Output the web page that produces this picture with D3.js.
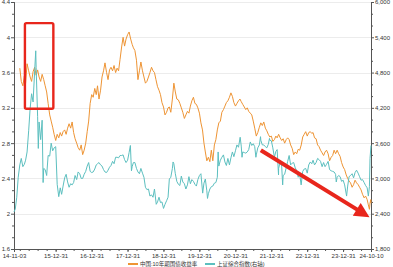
<!DOCTYPE html>
<html><head><meta charset="utf-8">
<script src="https://cdn.jsdelivr.net/npm/d3@7"></script>
<style>body{margin:0;background:#fff}svg{display:block}</style>
</head><body>
<script>
// ---------- DATA ----------
const seriesNames = ["中国:10年期国债收益率", "上证综合指数(右轴)"];

const yieldDates = ["2015-01-01","2015-01-16","2015-02-01","2015-02-16","2015-03-01","2015-03-16","2015-04-01","2015-04-16","2015-05-01","2015-05-16","2015-06-01","2015-06-16","2015-07-01","2015-07-16","2015-08-01","2015-08-16","2015-09-01","2015-09-16","2015-10-01","2015-10-16","2015-11-01","2015-11-16","2015-12-01","2015-12-16",
"2016-01-01","2016-01-16","2016-02-01","2016-02-16","2016-03-01","2016-03-16","2016-04-01","2016-04-16","2016-05-01","2016-05-16","2016-06-01","2016-06-16","2016-07-01","2016-07-16","2016-08-01","2016-08-16","2016-09-01","2016-09-16","2016-10-01","2016-10-16","2016-11-01","2016-11-16","2016-12-01","2016-12-16",
"2017-01-01","2017-01-16","2017-02-01","2017-02-16","2017-03-01","2017-03-16","2017-04-01","2017-04-16","2017-05-01","2017-05-16","2017-06-01","2017-06-16","2017-07-01","2017-07-16","2017-08-01","2017-08-16","2017-09-01","2017-09-16","2017-10-01","2017-10-16","2017-11-01","2017-11-16","2017-12-01","2017-12-16",
"2018-01-01","2018-01-16","2018-02-01","2018-02-16","2018-03-01","2018-03-16","2018-04-01","2018-04-16","2018-05-01","2018-05-16","2018-06-01","2018-06-16","2018-07-01","2018-07-16","2018-08-01","2018-08-16","2018-09-01","2018-09-16","2018-10-01","2018-10-16","2018-11-01","2018-11-16","2018-12-01","2018-12-16",
"2019-01-01","2019-01-16","2019-02-01","2019-02-16","2019-03-01","2019-03-16","2019-04-01","2019-04-16","2019-05-01","2019-05-16","2019-06-01","2019-06-16","2019-07-01","2019-07-16","2019-08-01","2019-08-16","2019-09-01","2019-09-16","2019-10-01","2019-10-16","2019-11-01","2019-11-16","2019-12-01","2019-12-16",
"2020-01-01","2020-01-16","2020-02-01","2020-02-16","2020-03-01","2020-03-16","2020-04-01","2020-04-16","2020-05-01","2020-05-16","2020-06-01","2020-06-16","2020-07-01","2020-07-16","2020-08-01","2020-08-16","2020-09-01","2020-09-16","2020-10-01","2020-10-16","2020-11-01","2020-11-16","2020-12-01","2020-12-16",
"2021-01-01","2021-01-16","2021-02-01","2021-02-16","2021-03-01","2021-03-16","2021-04-01","2021-04-16","2021-05-01","2021-05-16","2021-06-01","2021-06-16","2021-07-01","2021-07-16","2021-08-01","2021-08-16","2021-09-01","2021-09-16","2021-10-01","2021-10-16","2021-11-01","2021-11-16","2021-12-01","2021-12-16",
"2022-01-01","2022-01-16","2022-02-01","2022-02-16","2022-03-01","2022-03-16","2022-04-01","2022-04-16","2022-05-01","2022-05-16","2022-06-01","2022-06-16","2022-07-01","2022-07-16","2022-08-01","2022-08-16","2022-09-01","2022-09-16","2022-10-01","2022-10-16","2022-11-01","2022-11-16","2022-12-01","2022-12-16",
"2023-01-01","2023-01-16","2023-02-01","2023-02-16","2023-03-01","2023-03-16","2023-04-01","2023-04-16","2023-05-01","2023-05-16","2023-06-01","2023-06-16","2023-07-01","2023-07-16","2023-08-01","2023-08-16","2023-09-01","2023-09-16","2023-10-01","2023-10-16","2023-11-01","2023-11-16","2023-12-01","2023-12-16",
"2024-01-01","2024-01-16","2024-02-01","2024-02-16","2024-03-01","2024-03-16","2024-04-01","2024-04-16","2024-05-01","2024-05-16","2024-06-01","2024-06-16","2024-07-01","2024-07-16","2024-08-01","2024-08-16","2024-09-01","2024-09-13","2024-09-24","2024-09-30","2024-10-08","2024-10-10"];

const yieldValues = [3.65,3.5,3.45,3.56,3.48,3.7,3.62,3.55,3.5,3.61,3.66,3.57,3.63,3.55,3.5,3.58,3.52,3.45,3.38,3.25,3.12,3.05,2.98,2.9,
2.83,2.9,2.86,2.92,2.88,2.93,2.95,2.9,2.97,3.02,2.97,3.04,2.92,2.85,2.8,2.75,2.72,2.78,2.67,2.72,2.8,2.93,3.05,3.25,
3.35,3.32,3.42,3.35,3.45,3.3,3.4,3.55,3.62,3.71,3.6,3.52,3.63,3.66,3.62,3.68,3.6,3.65,3.62,3.75,3.89,4.0,3.9,3.98,
4.03,4.06,3.98,3.92,3.88,3.85,3.74,3.52,3.62,3.72,3.62,3.55,3.48,3.5,3.55,3.6,3.66,3.62,3.6,3.52,3.44,3.4,3.35,3.26,
3.21,3.12,3.15,3.2,3.21,3.15,3.3,3.48,3.38,3.3,3.29,3.25,3.2,3.15,3.08,3.12,3.16,3.14,3.22,3.28,3.32,3.25,3.24,3.2,
3.14,3.03,2.95,2.8,2.7,2.6,2.64,2.59,2.72,2.6,2.78,2.84,2.95,3.03,3.05,3.15,3.18,3.22,3.26,3.28,3.32,3.37,3.33,3.26,
3.22,3.25,3.28,3.3,3.27,3.24,3.21,3.18,3.2,3.16,3.14,3.12,3.05,2.97,2.88,2.92,2.98,3.03,3.0,3.04,2.97,2.94,2.9,2.87,
2.88,2.82,2.84,2.88,2.86,2.9,2.86,2.83,2.85,2.8,2.84,2.86,2.84,2.78,2.74,2.67,2.7,2.68,2.73,2.72,2.78,2.87,2.9,2.93,
2.88,2.92,2.93,2.91,2.92,2.86,2.85,2.78,2.76,2.72,2.69,2.66,2.7,2.72,2.68,2.6,2.64,2.66,2.72,2.68,2.72,2.68,2.65,2.58,
2.53,2.5,2.44,2.4,2.37,2.35,2.3,2.33,2.38,2.35,2.33,2.3,2.27,2.22,2.18,2.2,2.16,2.1,2.05,2.12,2.16,2.12];

const indexDates = ["2014-11-03","2014-11-16","2014-12-01","2014-12-16",
"2015-01-01","2015-01-16","2015-02-01","2015-02-16","2015-03-01","2015-03-16","2015-04-01","2015-04-16","2015-05-01","2015-05-16","2015-06-01","2015-06-12","2015-06-16","2015-07-01","2015-07-08","2015-07-16","2015-08-01","2015-08-16","2015-08-26","2015-09-01","2015-09-16","2015-10-01","2015-10-16","2015-11-01","2015-11-16","2015-12-01","2015-12-16",
"2016-01-01","2016-01-16","2016-02-01","2016-02-16","2016-03-01","2016-03-16","2016-04-01","2016-04-16","2016-05-01","2016-05-16","2016-06-01","2016-06-16","2016-07-01","2016-07-16","2016-08-01","2016-08-16","2016-09-01","2016-09-16","2016-10-01","2016-10-16","2016-11-01","2016-11-16","2016-12-01","2016-12-16",
"2017-01-01","2017-01-16","2017-02-01","2017-02-16","2017-03-01","2017-03-16","2017-04-01","2017-04-16","2017-05-01","2017-05-16","2017-06-01","2017-06-16","2017-07-01","2017-07-16","2017-08-01","2017-08-16","2017-09-01","2017-09-16","2017-10-01","2017-10-16","2017-11-01","2017-11-16","2017-12-01","2017-12-16",
"2018-01-01","2018-01-16","2018-01-29","2018-02-09","2018-02-16","2018-03-01","2018-03-16","2018-04-01","2018-04-16","2018-05-01","2018-05-16","2018-06-01","2018-06-16","2018-07-01","2018-07-16","2018-08-01","2018-08-16","2018-09-01","2018-09-16","2018-10-01","2018-10-19","2018-11-01","2018-11-16","2018-12-01","2018-12-16",
"2019-01-01","2019-01-16","2019-02-01","2019-02-16","2019-03-01","2019-03-16","2019-04-01","2019-04-08","2019-04-16","2019-05-01","2019-05-16","2019-06-01","2019-06-16","2019-07-01","2019-07-16","2019-08-01","2019-08-16","2019-09-01","2019-09-16","2019-10-01","2019-10-16","2019-11-01","2019-11-16","2019-12-01","2019-12-16",
"2020-01-01","2020-01-16","2020-02-03","2020-02-16","2020-03-01","2020-03-16","2020-03-23","2020-04-01","2020-04-16","2020-05-01","2020-05-16","2020-06-01","2020-06-16","2020-07-01","2020-07-09","2020-07-16","2020-08-01","2020-08-16","2020-09-01","2020-09-16","2020-10-01","2020-10-16","2020-11-01","2020-11-16","2020-12-01","2020-12-16",
"2021-01-01","2021-01-16","2021-02-01","2021-02-18","2021-03-01","2021-03-09","2021-03-16","2021-04-01","2021-04-16","2021-05-01","2021-05-16","2021-06-01","2021-06-16","2021-07-01","2021-07-16","2021-07-28","2021-08-01","2021-08-16","2021-09-01","2021-09-13","2021-09-16","2021-10-01","2021-10-16","2021-11-01","2021-11-16","2021-12-01","2021-12-13","2021-12-16",
"2022-01-01","2022-01-16","2022-02-01","2022-02-16","2022-03-01","2022-03-15","2022-03-16","2022-04-01","2022-04-16","2022-04-26","2022-05-01","2022-05-16","2022-06-01","2022-06-16","2022-07-01","2022-07-16","2022-08-01","2022-08-16","2022-09-01","2022-09-16","2022-10-01","2022-10-16","2022-10-31","2022-11-16","2022-12-01","2022-12-16",
"2023-01-01","2023-01-16","2023-02-01","2023-02-16","2023-03-01","2023-03-16","2023-04-01","2023-04-16","2023-05-01","2023-05-16","2023-06-01","2023-06-16","2023-07-01","2023-07-16","2023-08-01","2023-08-16","2023-09-01","2023-09-16","2023-10-01","2023-10-16","2023-10-23","2023-11-01","2023-11-16","2023-12-01","2023-12-16",
"2024-01-01","2024-01-16","2024-02-05","2024-02-16","2024-03-01","2024-03-16","2024-04-01","2024-04-16","2024-05-01","2024-05-16","2024-06-01","2024-06-16","2024-07-01","2024-07-16","2024-08-01","2024-08-16","2024-09-01","2024-09-13","2024-09-24","2024-09-30","2024-10-10"];

const indexValues = [2430,2480,2680,3020,
3230,3340,3200,3240,3310,3450,3810,4190,4440,4300,4830,5170,4890,4050,3510,3960,3660,3990,2930,3170,3150,3050,3390,3380,3600,3470,3520,
3540,2900,2690,2840,2730,2870,3010,3070,2940,2850,2910,2890,2930,3050,2980,3110,3080,3000,3000,3070,3120,3210,3270,3120,
3100,3110,3160,3230,3250,3270,3230,3210,3150,3110,3100,3140,3190,3220,3290,3250,3360,3360,3350,3390,3390,3400,3320,3270,
3310,3440,3560,3130,3200,3270,3270,3170,3110,3080,3170,3090,3020,2850,2810,2820,2700,2720,2680,2820,2560,2600,2680,2590,2600,
2490,2560,2620,2680,2990,3020,3170,3280,3250,3080,2950,2900,2880,3040,2940,2910,2820,2890,3030,2910,2980,2950,2900,2870,2980,
3050,3080,2750,2920,2990,2790,2660,2740,2820,2860,2870,2920,2930,3020,3450,3210,3310,3360,3400,3280,3220,3340,3230,3350,3450,3370,
3470,3570,3530,3700,3550,3360,3450,3440,3430,3450,3490,3620,3560,3590,3540,3360,3400,3520,3570,3710,3650,3570,3570,3540,3520,3580,3680,3650,
3640,3520,3360,3460,3490,3060,3170,3280,3210,2890,3050,3070,3180,3290,3390,3230,3260,3270,3180,3130,3020,3070,2890,3120,3160,3170,
3090,3230,3280,3250,3310,3230,3270,3340,3320,3290,3200,3270,3200,3240,3290,3150,3130,3120,3110,3070,2940,3020,3050,3030,2950,
2970,2890,2700,2870,3030,3050,3080,3010,3100,3140,3090,3030,2970,2980,2930,2880,2840,2700,2860,3340,3560];

const leftTicks = [1.6, 2, 2.4, 2.8, 3.2, 3.6, 4, 4.4];
const rightTicks = [1800, 2400, 3000, 3600, 4200, 4800, 5400, 6000];
const xTickLabels = ["14-11-03","15-12-31","16-12-31","17-12-31","18-12-31","19-12-31","20-12-31","21-12-31","22-12-31","23-12-31","24-10-10"];
const xDomain = ["2014-11-03", "2024-10-10"];

// annotations (in data units)
const boxCorners = {d0: "2015-02-22", d1: "2015-12-08", v0: 4.16, v1: 3.19};
const arrowEnds = {d0: "2021-09-16", v0: 2.72, d1: "2024-09-25", v1: 1.96};

// ---------- CHART ----------
const W = 393, H = 267;
const parse = d3.timeParse("%Y-%m-%d");
const parseShort = d3.timeParse("%y-%m-%d");
const font = "'Liberation Sans', Arial, 'Noto Sans CJK SC', sans-serif";

const svg = d3.select("body").append("svg").attr("width", W).attr("height", H)
  .style("font-family", font);

const x = d3.scaleTime().domain(xDomain.map(parse)).range([14, 371]);
const yL = d3.scaleLinear().domain([1.6, 4.4]).range([249, 2]);
const yR = d3.scaleLinear().domain([1800, 6000]).range([249, 2]);

// gridlines
svg.append("g").selectAll("line").data(leftTicks.slice(1)).join("line")
  .attr("x1", 14).attr("x2", 371)
  .attr("y1", d => Math.round(yL(d)) + 0.5).attr("y2", d => Math.round(yL(d)) + 0.5)
  .attr("stroke", "#ececec").attr("stroke-width", 1);

// minor tick values
function minors(ticks, n) {
  const out = [];
  for (let i = 0; i < ticks.length - 1; i++) {
    const step = (ticks[i + 1] - ticks[i]) / n;
    for (let k = 1; k < n; k++) out.push(ticks[i] + k * step);
  }
  return out;
}

const axisColor = "#555";
function styleAxis(g) {
  g.select(".domain").attr("stroke", axisColor);
  g.selectAll(".tick line").attr("stroke", axisColor);
  g.selectAll("text").attr("fill", "#333").style("font-size", "6px").style("font-family", font);
}

// left axis
svg.append("g").attr("transform", "translate(14,0)")
  .call(d3.axisLeft(yL).tickValues(minors(leftTicks, 3)).tickSize(2).tickFormat(""))
  .call(styleAxis);
svg.append("g").attr("transform", "translate(14,0)")
  .call(d3.axisLeft(yL).tickValues(leftTicks).tickSize(3).tickPadding(1).tickFormat(d3.format("")))
  .call(styleAxis);

// right axis
svg.append("g").attr("transform", "translate(371,0)")
  .call(d3.axisRight(yR).tickValues(minors(rightTicks, 3)).tickSize(2).tickFormat(""))
  .call(styleAxis);
svg.append("g").attr("transform", "translate(371,0)")
  .call(d3.axisRight(yR).tickValues(rightTicks).tickSize(3).tickPadding(1).tickFormat(d3.format(",")))
  .call(styleAxis);

// bottom axis
const xMajor = xTickLabels.map(parseShort);
const xMinor = d3.timeMonth.range(new Date(2015, 0, 1), new Date(2024, 9, 1), 3);
svg.append("g").attr("transform", "translate(0,249)")
  .call(d3.axisBottom(x).tickValues(xMinor).tickSize(2).tickFormat(""))
  .call(styleAxis);
svg.append("g").attr("transform", "translate(0,249)")
  .call(d3.axisBottom(x).tickValues(xMajor).tickSize(3).tickPadding(2).tickFormat(d3.timeFormat("%y-%m-%d")))
  .call(styleAxis);

// lines
const orange = "#ee9434", teal = "#5cbfbf";
const yieldData = yieldDates.map((d, i) => [parse(d), yieldValues[i]]);
const indexData = indexDates.map((d, i) => [parse(d), indexValues[i]]);

svg.append("path").datum(yieldData)
  .attr("d", d3.line().x(d => x(d[0])).y(d => yL(d[1])))
  .attr("fill", "none").attr("stroke", orange).attr("stroke-width", 1).attr("stroke-linejoin", "round");
svg.append("path").datum(indexData)
  .attr("d", d3.line().x(d => x(d[0])).y(d => yR(d[1])))
  .attr("fill", "none").attr("stroke", teal).attr("stroke-width", 1).attr("stroke-linejoin", "round");

// red box annotation
const red = "#e8261c";
const bx0 = x(parse(boxCorners.d0)), bx1 = x(parse(boxCorners.d1));
const by0 = yL(boxCorners.v0), by1 = yL(boxCorners.v1);
svg.append("rect").attr("x", bx0).attr("y", by0).attr("width", bx1 - bx0).attr("height", by1 - by0)
  .attr("rx", 1.5).attr("fill", "none").attr("stroke", red).attr("stroke-width", 2.4);

// red arrow annotation
const ax0 = x(parse(arrowEnds.d0)), ay0 = yL(arrowEnds.v0);
const ax1 = x(parse(arrowEnds.d1)), ay1 = yL(arrowEnds.v1);
const ang = Math.atan2(ay1 - ay0, ax1 - ax0);
const headLen = 15, headHalf = 7.5;
const bxC = ax1 - headLen * Math.cos(ang), byC = ay1 - headLen * Math.sin(ang);
svg.append("line").attr("x1", ax0).attr("y1", ay0)
  .attr("x2", bxC + 2 * Math.cos(ang)).attr("y2", byC + 2 * Math.sin(ang))
  .attr("stroke", red).attr("stroke-width", 4);
svg.append("path")
  .attr("d", `M${ax1},${ay1}L${bxC - headHalf * Math.sin(ang)},${byC + headHalf * Math.cos(ang)}L${bxC + headHalf * Math.sin(ang)},${byC - headHalf * Math.cos(ang)}Z`)
  .attr("fill", red);

// legend
const legend = svg.append("g");
const legendItems = [{name: seriesNames[0], color: orange, x: 128}, {name: seriesNames[1], color: teal, x: 205}];
legendItems.forEach(it => {
  legend.append("line").attr("x1", it.x).attr("x2", it.x + 10).attr("y1", 264).attr("y2", 264)
    .attr("stroke", it.color).attr("stroke-width", 2);
  legend.append("text").attr("x", it.x + 12).attr("y", 265.8).text(it.name)
    .attr("fill", "#333").style("font-size", "5.5px").style("font-family", font);
});
</script>
</body></html>
